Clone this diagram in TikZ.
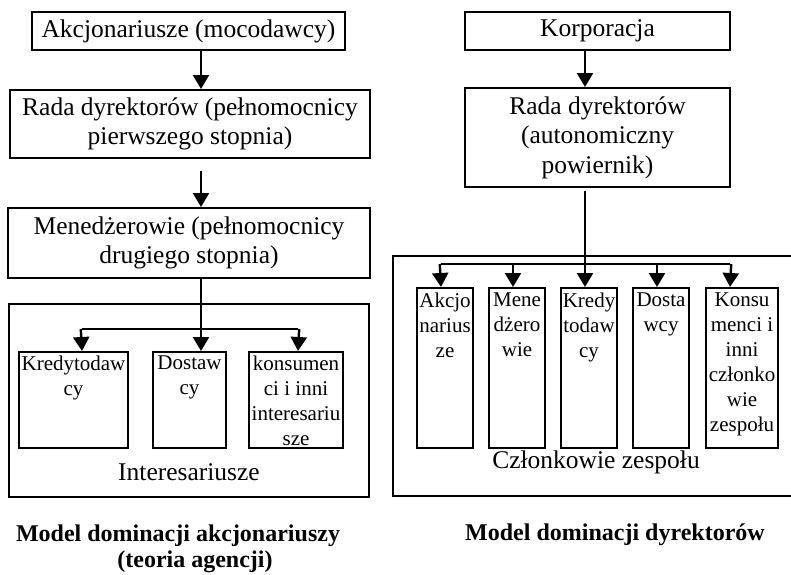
\documentclass[tikz,border=0pt]{standalone}
\usepackage{fontspec}
\setmainfont{Liberation Serif}
\usetikzlibrary{arrows.meta}
\begin{document}
\begin{tikzpicture}[x=1pt,y=-1pt,
  bigbox/.style={draw,line width=2pt,inner sep=0pt,align=center,font=\fontsize{25.5}{29.5}\selectfont},
  smallbox/.style={draw,line width=2pt,inner sep=0pt},
  smalltext/.style={anchor=north,inner sep=0pt,align=center,font=\fontsize{21}{25}\selectfont},
  frametext/.style={inner sep=0pt,font=\fontsize{25.5}{29}\selectfont},
  captiontext/.style={inner sep=0pt,font=\fontsize{24}{28}\selectfont\bfseries},
  conn/.style={line width=2.4pt},
  arr/.style={line width=2.4pt,-{Triangle[length=14pt,width=16pt]}}]
\useasboundingbox (0,0) rectangle (791,574);
\fill[white] (0,0) rectangle (791,574);

% ---------------- left model ----------------
\node[bigbox,minimum width=313pt,minimum height=38pt] (akc) at (188.5,31) {Akcjonariusze (mocodawcy)};
\node[bigbox,minimum width=360pt,minimum height=68pt] (rada1) at (190,124) {Rada dyrektorów (pełnomocnicy\\pierwszego stopnia)};
\node[bigbox,minimum width=362pt,minimum height=70pt] (men) at (189,243) {Menedżerowie (pełnomocnicy\\drugiego stopnia)};
\draw[line width=2pt] (9,304) rectangle (369,497);
\node[frametext] (inter) at (189,472) {Interesariusze};

\node[smallbox,minimum width=109pt,minimum height=96pt] (kred1) at (73.5,400) {};
\node[smallbox,minimum width=73pt,minimum height=96pt] (dost1) at (189.5,400) {};
\node[smallbox,minimum width=94pt,minimum height=96pt] (kons1) at (296,400) {};
\node[smalltext] at ([yshift=-5pt]kred1.north) {Kredytodaw\\cy};
\node[smalltext] at ([yshift=-5pt]dost1.north) {Dostaw\\cy};
\node[smalltext] at ([yshift=-5pt]kons1.north) {konsumen\\ci i inni\\interesariu\\sze};

\coordinate (lx) at (201,0);
\coordinate (lh) at (0,329);
\coordinate (kx) at (82,0);
\coordinate (sx) at (298,0);
\draw[arr] (lx |- akc.south) -- (lx |- rada1.north);
\draw[arr] ([yshift=-12pt]lx |- rada1.south) -- (lx |- men.north);
\draw[arr] (lx |- men.south) -- (lx |- dost1.north);
\draw[conn] (kx |- lh) -- (sx |- lh);
\draw[arr] ([xshift=-1.2pt]kx |- lh) -- (kx |- kred1.north);
\draw[arr] ([xshift=1.2pt]sx |- lh) -- (sx |- kons1.north);

\node[captiontext] (cap1a) at (178,536) {Model dominacji akcjonariuszy};
\node[captiontext] (cap1b) at (195,562) {(teoria agencji)};

% ---------------- right model ----------------
\node[bigbox,minimum width=265pt,minimum height=38pt] (korp) at (597.5,31) {Korporacja};
\node[bigbox,minimum width=265pt,minimum height=99pt] (rada2) at (597.5,137.5) {Rada dyrektorów\\(autonomiczny\\powiernik)};
\draw[line width=2pt] (800,256) -- (393,256) -- (393,496) -- (800,496);
\node[frametext] (czl) at (596,462) {Członkowie zespołu};

\node[smallbox,minimum width=56pt,minimum height=160pt] (b1) at (445,368) {};
\node[smallbox,minimum width=56pt,minimum height=160pt] (b2) at (517,368) {};
\node[smallbox,minimum width=56pt,minimum height=160pt] (b3) at (589,368) {};
\node[smallbox,minimum width=56pt,minimum height=160pt] (b4) at (661,368) {};
\node[smallbox,minimum width=72pt,minimum height=160pt] (b5) at (742,368) {};
\node[smalltext] at ([yshift=-6pt]b1.north) {Akcjo\\narius\\ze};
\node[smalltext] at ([yshift=-6pt]b2.north) {Mene\\dżero\\wie};
\node[smalltext] at ([yshift=-6pt]b3.north) {Kredy\\todaw\\cy};
\node[smalltext] at ([yshift=-6pt]b4.north) {Dosta\\wcy};
\node[smalltext] at ([yshift=-6pt]b5.north) {Konsu\\menci i\\inni\\członko\\wie\\zespołu};

\coordinate (rx) at (585,0);
\coordinate (rh) at (0,264);
\coordinate (x1) at (441,0);
\coordinate (x2) at (513,0);
\coordinate (x4) at (657,0);
\coordinate (x5) at (730,0);
\draw[arr] (rx |- korp.south) -- (rx |- rada2.north);
\draw[arr] ([yshift=-3pt]rx |- rada2.south) -- (rx |- b3.north);
\draw[conn] (x1 |- rh) -- (x5 |- rh);
\draw[arr] ([xshift=-1.2pt]x1 |- rh) -- (x1 |- b1.north);
\draw[arr] (x2 |- rh) -- (x2 |- b2.north);
\draw[arr] (x4 |- rh) -- (x4 |- b4.north);
\draw[arr] ([xshift=1.2pt]x5 |- rh) -- (x5 |- b5.north);

\node[captiontext] (cap2) at (615,535) {Model dominacji dyrektorów};
\end{tikzpicture}
\end{document}
